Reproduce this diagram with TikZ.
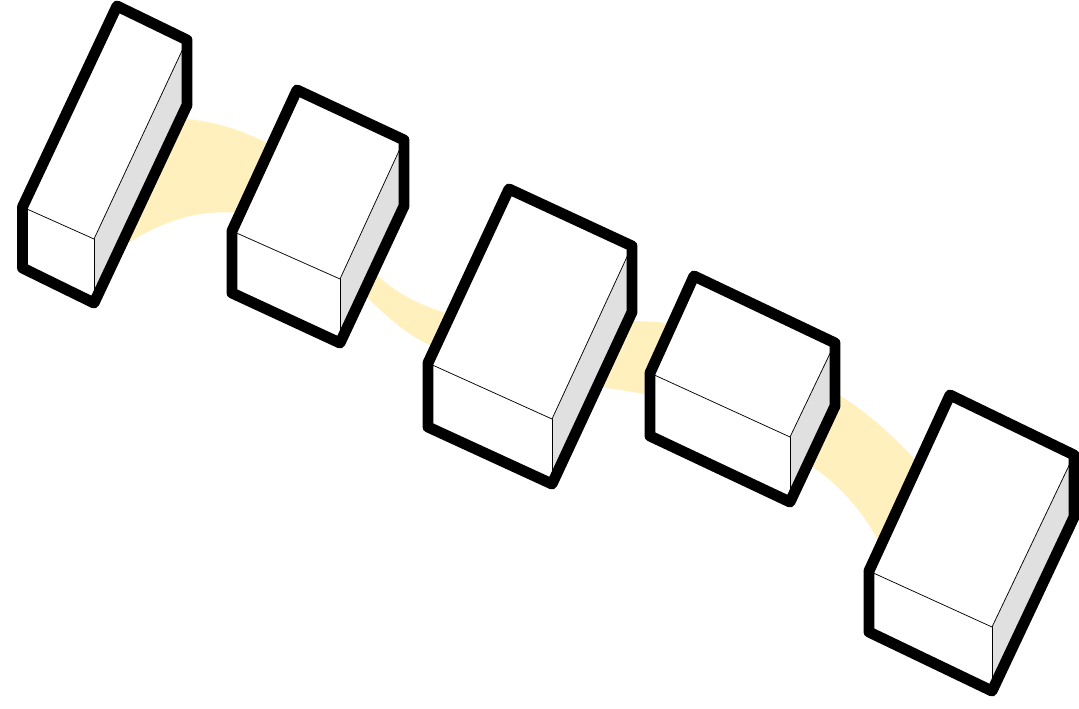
\documentclass[tikz,border=0pt]{standalone}
\usepackage{xcolor}
\usepackage{tikz}
\definecolor{bandyellow}{HTML}{FFF0BE}
\definecolor{sidegray}{HTML}{E0E0E0}
\newcommand{\blockbox}[7]{
    \fill[white] #1--#2--#3--#4--#5--#6--cycle;
    \fill[sidegray] #7--#3--#4--#5--cycle;
    \draw[thinedge] #1--#7--#3;
    \draw[thinedge] #7--#5;
    \draw[thickedge] #1--#2--#3--#4--#5--#6--cycle;
}
\begin{document}
\begin{tikzpicture}[x=0.75pt,y=-0.75pt,
    thickedge/.style={line width=8.2pt,line join=round,black},
    thinedge/.style={line width=0.55pt,black},
    band/.style={fill=bandyellow,draw=none}]
        \useasboundingbox (0,0) rectangle (1079,708);

            \fill[band] (170,118) .. controls (205,119) and (240,127) .. (280,150)
                --(240,213) .. controls (195,209) and (160,222) .. (120,248)--cycle;
            \fill[band] (367,265) .. controls (385,285) and (410,303) .. (450,314)
                --(435,347) .. controls (410,338) and (385,316) .. (355,285)--cycle;
            \fill[band] (625,321) .. controls (645,321) and (660,322) .. (675,324)
                --(655,395) .. controls (635,393) and (615,389) .. (595,386)--cycle;
            \fill[band] (830,390) .. controls (860,406) and (890,432) .. (920,465)
                --(880,545) .. controls (865,512) and (835,480) .. (805,462)--cycle;

            \blockbox{(22.5,207)}{(117,6)}{(187,40)}{(187,105)}{(94,303)}{(22.5,268)}{(94,239)}
            \blockbox{(232,231)}{(297,90)}{(404,140)}{(404,206)}{(340,343)}{(232,293)}{(340,279)}
            \blockbox{(428,363)}{(509,189)}{(632,246)}{(632,312)}{(552,484)}{(428,427)}{(552,419)}
            \blockbox{(650,373)}{(694,276)}{(835,343)}{(835,406)}{(790,502)}{(650,436)}{(790,437)}
            \blockbox{(869,571)}{(950,395)}{(1074,455)}{(1074,517)}{(992,691)}{(869,632)}{(992,627)}
        \end{tikzpicture}
\end{document}
